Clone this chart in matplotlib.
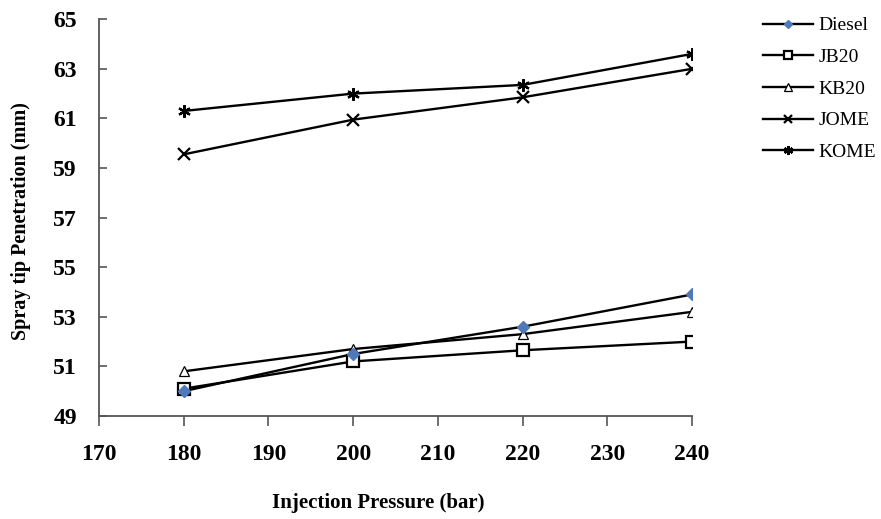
import numpy as np
import matplotlib.pyplot as plt
from matplotlib.lines import Line2D

# spray tip penetration vs injection pressure
pressure = [180, 200, 220, 240]
diesel = [50.0, 51.5, 52.6, 53.9]
jb20 = [50.1, 51.2, 51.65, 52.0]
kb20 = [50.8, 51.7, 52.3, 53.2]
jome = [59.55, 60.95, 61.85, 63.0]
kome = [61.3, 62.0, 62.35, 63.6]
names = ['Diesel', 'JB20', 'KB20', 'JOME', 'KOME']

plt.rcParams['font.family'] = ['Liberation Serif', 'DejaVu Serif']

fig = plt.figure(figsize=(8.81, 5.19), dpi=100)
ax = fig.add_axes([0.1124, 0.1985, 0.6731, 0.7645])

blue = '#4f79b8'
lw = 1.7
styles = [
    dict(marker='D', ms=6, mfc=blue, mec=blue),
    dict(marker='s', ms=8.5, mfc='white', mec='black', mew=1.6),
    dict(marker='^', ms=7.5, mfc='white', mec='black', mew=0.9),
    dict(marker='x', ms=8, mec='black', mew=1.6),
    dict(marker=(6, 2, 0), ms=9, mec='black', mew=1.6),
]
series = [diesel, jb20, kb20, jome, kome]
for ys, st, name in zip(series, styles, names):
    ax.plot(pressure, ys, color='black', lw=lw, label=name,
            zorder=5 if name == 'Diesel' else 3, **st)

ax.set_xlim(170, 240)
ax.set_ylim(49, 65)
ax.set_xticks(np.arange(170, 241, 10))
ax.set_yticks(np.arange(49, 66, 2))

for s in ['top', 'right']:
    ax.spines[s].set_visible(False)
for s in ['left', 'bottom']:
    ax.spines[s].set_color('#555555')
    ax.spines[s].set_linewidth(1.3)

ax.tick_params(axis='y', direction='in', length=6, width=1.2, color='#555555', pad=16)
ax.tick_params(axis='x', direction='out', length=7, width=1.2, color='#555555', pad=13)
for t in ax.get_xticklabels() + ax.get_yticklabels():
    t.set_fontsize(17)
    t.set_fontweight('bold')

ax.set_xlabel('Injection Pressure (bar)', fontsize=15, fontweight='bold')
ax.xaxis.set_label_coords(0.471, -0.195)
ax.set_ylabel('Spray tip Penetration (mm)', fontsize=14.5, fontweight='bold')
ax.yaxis.set_label_coords(-0.115, 0.49)

# smaller markers in the legend keys
handles = []
for st, name in zip(styles, names):
    small = dict(st)
    small['ms'] = st['ms'] * 0.72
    handles.append(Line2D([], [], color='black', lw=lw, label=name, **small))
ax.legend(handles=handles, loc='upper left', bbox_to_anchor=(1.09, 1.05), frameon=False,
          fontsize=14, handlelength=2.6, labelspacing=0.72, handletextpad=0.25)

fig.savefig('out.png', dpi=100)
